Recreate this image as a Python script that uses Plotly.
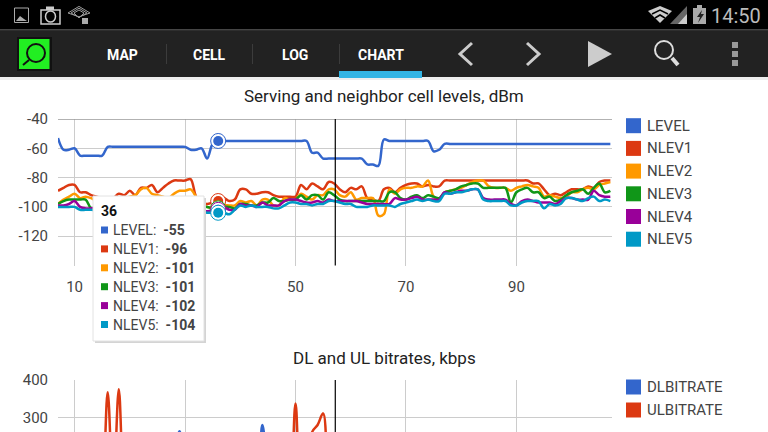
import plotly.graph_objects as go

W, H = 768, 432

# chart data, one reading per second
SAMPLES = list(range(7, 108))
LEVEL = [-53, -61, -61, -60, -65, -65, -65, -65, -65, -59,
         -59, -59, -59, -59, -59, -59, -59, -59, -59, -59,
         -59, -59, -59, -59, -61, -61, -60, -67, -57, -55,
         -55, -55, -55, -55, -55, -55, -55, -55, -55, -55,
         -55, -55, -55, -55, -55, -55, -63, -63, -67, -67,
         -67, -67, -67, -67, -67, -67, -71, -71, -72, -54,
         -55, -55, -55, -55, -55, -55, -55, -55, -62, -61,
         -57, -57, -57, -57, -57, -57, -57, -57, -57, -57,
         -57, -57, -57, -57, -57, -57, -57, -57, -57, -57,
         -57, -57, -57, -57, -57, -57, -57, -57, -57, -57, -57]
NLEV1 = [-89, -87, -85, -85, -90, -90, -92, -93, -94, -95,
         -94, -91, -92, -89, -92, -87, -87, -85, -90, -87,
         -84, -82, -82, -82, -81, -93, -97, -98, -97, -96,
         -94, -96, -95, -88, -88, -91, -91, -90, -90, -92,
         -93, -93, -93, -93, -85, -88, -84, -86, -88, -83,
         -84, -88, -90, -87, -88, -86, -94, -95, -96, -88,
         -87, -90, -87, -85, -84, -84, -86, -85, -86, -86,
         -82, -82, -82, -82, -82, -82, -82, -82, -82, -82,
         -82, -82, -82, -82, -82, -82, -84, -84, -88, -92,
         -91, -92, -90, -88, -88, -88, -86, -87, -83, -82, -82]
NLEV2 = [-98, -95, -93, -91, -94, -93, -94, -96, -96, -97,
         -96, -95, -94, -93, -92, -88, -87, -91, -92, -93,
         -94, -91, -89, -89, -88, -93, -98, -100, -101, -101,
         -99, -99, -99, -96, -97, -96, -99, -95, -95, -99,
         -99, -94, -95, -95, -91, -93, -95, -92, -92, -88,
         -88, -92, -93, -90, -95, -94, -94, -94, -106, -105,
         -88, -91, -88, -87, -87, -86, -86, -82, -93, -95,
         -90, -89, -88, -87, -85, -83, -82, -82, -86, -87,
         -87, -87, -89, -87, -86, -85, -86, -87, -93, -92,
         -93, -94, -93, -90, -90, -88, -87, -88, -85, -84, -83]
NLEV3 = [-98, -96, -95, -95, -95, -95, -101, -101, -101, -100,
         -100, -99, -99, -99, -100, -99, -99, -99, -100, -99,
         -99, -100, -100, -100, -100, -100, -100, -100, -101, -101,
         -100, -100, -101, -98, -98, -99, -99, -97, -97, -94,
         -96, -96, -95, -95, -92, -95, -92, -92, -95, -90,
         -92, -95, -96, -96, -96, -96, -96, -96, -96, -96,
         -90, -90, -94, -95, -93, -92, -94, -92, -93, -94,
         -90, -89, -88, -86, -85, -84, -84, -87, -87, -87,
         -87, -87, -97, -90, -88, -87, -90, -90, -94, -93,
         -96, -95, -92, -90, -89, -88, -91, -87, -84, -90, -89]
NLEV4 = [-99, -99, -98, -96, -100, -101, -101, -101, -101, -102,
         -102, -101, -101, -101, -102, -101, -101, -102, -101, -101,
         -102, -102, -102, -101, -102, -102, -102, -103, -102, -102,
         -100, -102, -102, -98, -99, -99, -100, -97, -99, -99,
         -99, -96, -95, -95, -96, -97, -97, -96, -97, -95,
         -96, -96, -96, -96, -96, -97, -98, -98, -98, -98,
         -98, -94, -95, -95, -94, -93, -95, -95, -95, -95,
         -90, -91, -90, -89, -89, -88, -88, -94, -95, -95,
         -95, -95, -98, -99, -96, -95, -96, -97, -97, -97,
         -98, -96, -94, -94, -95, -95, -95, -89, -92, -93, -93]
NLEV5 = [-100, -100, -100, -100, -102, -102, -102, -102, -101, -102,
         -103, -102, -102, -103, -103, -103, -103, -102, -103, -103,
         -103, -103, -103, -103, -104, -103, -103, -104, -104, -104,
         -104, -105, -102, -99, -100, -99, -100, -100, -100, -101,
         -101, -99, -97, -97, -98, -98, -99, -98, -98, -96,
         -96, -97, -98, -98, -100, -100, -100, -99, -99, -99,
         -99, -100, -98, -97, -96, -95, -96, -95, -96, -96,
         -91, -91, -90, -90, -89, -88, -88, -95, -96, -96,
         -96, -96, -99, -99, -97, -96, -96, -96, -101, -98,
         -99, -98, -94, -94, -95, -96, -94, -93, -96, -95, -96]
DLBITRATE = [30, 40, 35, 30, 45, 50, 40, 35, 30, 40,
             35, 45, 50, 60, 80, 90, 100, 120, 140, 130,
             150, 200, 263, 180, 150, 120, 110, 100, 90, 95,
             100, 90, 85, 80, 90, 100, 120, 280, 150, 90,
             80, 70, 60, 50, 60, 50, 40, 50, 60, 50,
             40, 30, 40, 30, 30, 40, 30, 30, 40, 30,
             30, 30, 40, 30, 30, 30, 40, 30, 30, 30,
             40, 30, 30, 30, 40, 30, 30, 30, 40, 30,
             30, 30, 40, 30, 30, 30, 40, 30, 30, 30,
             40, 30, 30, 30, 40, 30, 30, 30, 40, 30, 30]
ULBITRATE = [20, 25, 30, 20, 15, 20, 10, 15, 90, 367,
             90, 375, 90, 15, 20, 15, 20, 25, 20, 15,
             20, 15, 20, 25, 20, 15, 20, 15, 20, 15,
             20, 25, 20, 15, 20, 15, 20, 25, 20, 15,
             20, 15, 70, 337, 100, 60, 261, 280, 311, 100,
             40, 20, 15, 20, 25, 20, 15, 20, 15, 20,
             25, 20, 15, 20, 15, 20, 25, 20, 15, 20,
             15, 20, 25, 20, 15, 20, 15, 20, 25, 20,
             15, 20, 15, 20, 25, 20, 15, 20, 15, 20,
             25, 20, 15, 20, 15, 20, 25, 20, 15, 20, 15]

LEVEL_NAMES = ["LEVEL", "NLEV1", "NLEV2", "NLEV3", "NLEV4", "NLEV5"]
LEVEL_SERIES = [LEVEL, NLEV1, NLEV2, NLEV3, NLEV4, NLEV5]
LEVEL_COLORS = ["#3366cc", "#dc3912", "#ff9900", "#109618", "#990099", "#0099c6"]
BITRATE_NAMES = ["DLBITRATE", "ULBITRATE"]
BITRATE_SERIES = [DLBITRATE, ULBITRATE]
BITRATE_COLORS = ["#3366cc", "#dc3912"]
X_TICKS = [10, 30, 50, 70, 90]
X_LABELS = ["10", "", "50", "70", "90"]  # 30 sits behind the tooltip
LEVEL_TICKS = [-40, -60, -80, -100, -120]
LEVEL_LABELS = ["-40", "-60", "-80", "-100", "-120"]
BITRATE_TICKS = [300, 400]
CURSOR_X = 57.2
SELECTED_X = 36
TAB_NAMES = ["MAP", "CELL", "LOG", "CHART"]


def px(x):
    return x / W


def py(y):
    return 1 - y / H


def rect(x0, y0, x1, y1, color, line=None, width=1):
    return dict(type="rect", xref="paper", yref="paper",
                x0=px(x0), x1=px(x1), y0=py(y0), y1=py(y1), fillcolor=color,
                line=dict(color=line, width=width if line else 0))


def circle(x0, y0, x1, y1, fill, line, width):
    return dict(type="circle", xref="paper", yref="paper",
                x0=px(x0), x1=px(x1), y0=py(y0), y1=py(y1), fillcolor=fill,
                line=dict(color=line, width=width))


def poly(points, fill=None, line=None, width=1, close=True):
    d = "M" + " L".join(f"{px(a):.5f},{py(b):.5f}" for a, b in points)
    if close:
        d += " Z"
    return dict(type="path", xref="paper", yref="paper", path=d,
                fillcolor=fill if fill else "rgba(0,0,0,0)",
                line=dict(color=line if line else "rgba(0,0,0,0)", width=width))


def label(x, y, text, size=13, color="#444444", anchor="left", font="Roboto"):
    return dict(xref="paper", yref="paper", x=px(x), y=py(y), text=text, showarrow=False,
                xanchor=anchor, yanchor="middle", align=anchor, borderpad=0, borderwidth=0,
                font=dict(family=font, size=size, color=color))


fig = go.Figure()

for name, vals, color in zip(LEVEL_NAMES, LEVEL_SERIES, LEVEL_COLORS):
    fig.add_trace(go.Scatter(x=SAMPLES, y=vals, name=name, mode="lines", xaxis="x", yaxis="y",
                             line=dict(color=color, width=2.5, shape="spline", smoothing=1.0),
                             showlegend=False))
# selected point rings
for name, vals, color in zip(LEVEL_NAMES, LEVEL_SERIES, LEVEL_COLORS):
    sel = [vals[SAMPLES.index(SELECTED_X)]]
    fig.add_trace(go.Scatter(x=[SELECTED_X], y=sel, mode="markers", xaxis="x", yaxis="y",
                             marker=dict(size=15, color="white", line=dict(color=color, width=1)),
                             showlegend=False))
    fig.add_trace(go.Scatter(x=[SELECTED_X], y=sel, mode="markers", xaxis="x", yaxis="y",
                             marker=dict(size=10, color=color), showlegend=False))

for name, vals, color in zip(BITRATE_NAMES, BITRATE_SERIES, BITRATE_COLORS):
    fig.add_trace(go.Scatter(x=SAMPLES, y=vals, name=name, mode="lines", xaxis="x2", yaxis="y2",
                             line=dict(color=color, width=2.5, shape="spline", smoothing=1.0),
                             showlegend=False))

shapes = []
notes = []

# status bar and action bar
shapes.append(rect(0, 0, W, 29.5, "#000000"))
shapes.append(rect(0, 29.5, W, 77, "#222222"))
shapes.append(rect(0, 29.5, W, 30.5, "#3a3a3a"))
shapes.append(rect(0, 77, W, 80, "#eeeeee"))
shapes.append(rect(339, 71, 422, 78, "#33b5e5"))
for x in [166, 252, 339]:
    shapes.append(rect(x, 44, x + 1, 64, "#3c3c3c"))

# app icon
shapes.append(rect(17, 37, 52, 71, "#111111"))
shapes.append(rect(19, 39, 49.5, 69, "#22ee22"))
shapes.append(circle(27, 44, 45, 62, "rgba(0,0,0,0)", "#111111", 2))
shapes.append(poly([(29, 60), (23, 65)], line="#111111", width=2, close=False))

# back, forward, play, search, overflow
shapes.append(poly([(472, 43), (460, 54), (472, 65)], line="#cccccc", width=3, close=False))
shapes.append(poly([(527, 43), (539, 54), (527, 65)], line="#cccccc", width=3, close=False))
shapes.append(poly([(588, 41), (612, 54), (588, 67)], fill="#cccccc"))
shapes.append(circle(655, 41, 673, 59, "rgba(0,0,0,0)", "#dddddd", 2))
shapes.append(poly([(672, 58), (678, 65)], line="#dddddd", width=4, close=False))
for y in [42, 51, 60]:
    shapes.append(rect(732, y, 738, y + 6, "#999999"))

# status bar icons
shapes.append(rect(14.5, 8, 28.5, 22.5, "rgba(0,0,0,0)", "#aaaaaa", 1))
shapes.append(poly([(16, 21), (20, 16), (24, 19), (27, 21)], fill="#aaaaaa"))
shapes.append(rect(41, 10, 60, 24, "rgba(0,0,0,0)", "#cccccc", 1.5))
shapes.append(circle(45.5, 11, 55.5, 22, "rgba(0,0,0,0)", "#cccccc", 1.5))
shapes.append(rect(46, 6.5, 54, 10, "#cccccc"))
for r in [11, 8, 5]:
    shapes.append(poly([(79 - r, 13), (79, 13 - r * 0.6), (79 + r, 13), (79, 19 - r * 0.2)],
                       line="#999999", width=1))
shapes.append(rect(82, 18, 88, 24, "#aaaaaa"))
shapes.append(poly([(648, 11), (660, 6), (672, 11), (660, 23)], fill="#cccccc"))
shapes.append(poly([(652, 14), (660, 10), (668, 14)], line="#000000", width=1.5, close=False))
shapes.append(poly([(655, 18), (660, 15), (665, 18)], line="#000000", width=1.5, close=False))
shapes.append(poly([(670, 24), (687, 6), (687, 24)], fill="#666666"))
shapes.append(poly([(678, 24), (687, 14), (687, 24)], fill="#cccccc"))
shapes.append(rect(693, 8, 706, 24, "#aaaaaa"))
shapes.append(rect(697, 5, 702, 8, "#aaaaaa"))
shapes.append(poly([(702, 10), (697, 17), (700, 17), (698, 23), (704, 14), (701, 14)], fill="#222222"))
notes.append(label(761, 16, "14:50", size=20, color="#bbbbbb", anchor="right"))

for name, x in zip(TAB_NAMES, [122.5, 209, 295, 381]):
    notes.append(label(x, 55, f"<b>{name}</b>", size=14, color="#ffffff", anchor="center"))

# chart titles
notes.append(label(384, 96, "Serving and neighbor cell levels, dBm", size=17, color="#222222", anchor="center"))
notes.append(label(384, 358, "DL and UL bitrates, kbps", size=17, color="#222222", anchor="center"))

# legends
for i, (name, color) in enumerate(zip(LEVEL_NAMES, LEVEL_COLORS)):
    y = 125.7 + i * 22.7
    shapes.append(rect(626, y - 7.5, 641, y + 7.5, color))
    notes.append(label(647, y, name, size=15))
for i, (name, color) in enumerate(zip(BITRATE_NAMES, BITRATE_COLORS)):
    y = 387 + i * 23
    shapes.append(rect(626, y - 7.5, 641, y + 7.5, color))
    notes.append(label(647, y, name, size=15))

# top border and cursor
shapes.append(dict(type="line", xref="x domain", yref="y", x0=0, x1=1, y0=-40, y1=-40,
                   line=dict(color="#999999", width=1.5)))
shapes.append(dict(type="line", xref="x", yref="y domain", x0=CURSOR_X, x1=CURSOR_X, y0=0, y1=1,
                   line=dict(color="#000000", width=1.2)))
shapes.append(dict(type="line", xref="x2", yref="y2 domain", x0=CURSOR_X, x1=CURSOR_X, y0=0, y1=1,
                   line=dict(color="#000000", width=1.2)))

# tooltip
shapes.append(rect(95, 198, 206, 343, "#d4d4d4"))
shapes.append(rect(93, 196, 204, 341, "#ffffff", "#e2e2e2", 1))
notes.append(label(101, 210.5, f"<b>{SELECTED_X}</b>", size=14, color="#111111"))
for i, (name, vals, color) in enumerate(zip(LEVEL_NAMES, LEVEL_SERIES, LEVEL_COLORS)):
    y = 230 + i * 18.9
    shapes.append(rect(101, y - 3.5, 108, y + 3.5, color))
    notes.append(label(113, y, f"{name}:\u00a0 <b>{vals[SAMPLES.index(SELECTED_X)]}</b>", size=14, color="#444444"))

grid = "#cccccc"
fig.update_layout(
    width=W, height=H, margin=dict(l=0, r=0, t=0, b=0, autoexpand=False),
    paper_bgcolor="white", plot_bgcolor="white", showlegend=False,
    font=dict(family="Roboto", size=15, color="#444444"),
    xaxis=dict(domain=[px(58), px(612)], range=[7, 107.3], anchor="y",
               tickvals=X_TICKS, ticktext=X_LABELS,
               showgrid=True, gridcolor=grid, zeroline=False, ticks="", ticklabelstandoff=10,
               fixedrange=True),
    yaxis=dict(domain=[py(265.5), py(119)], range=[-140, -40], anchor="x",
               tickvals=LEVEL_TICKS, ticktext=LEVEL_LABELS,
               showgrid=True, gridcolor=grid, zeroline=False, ticks="", ticklabelstandoff=9,
               fixedrange=True),
    xaxis2=dict(domain=[px(58), px(612)], range=[7, 107.3], anchor="y2", tickvals=X_TICKS,
                showgrid=True, gridcolor=grid, zeroline=False, showticklabels=False, ticks="",
                fixedrange=True),
    yaxis2=dict(domain=[0, py(380)], range=[261.3, 400], anchor="x2", tickvals=BITRATE_TICKS,
                showgrid=True, gridcolor=grid, zeroline=False, ticks="", ticklabelstandoff=9,
                fixedrange=True),
    shapes=shapes, annotations=notes,
)

fig.write_html("out.html", config={"displayModeBar": False},
               post_script="document.body.style.margin='0';")
